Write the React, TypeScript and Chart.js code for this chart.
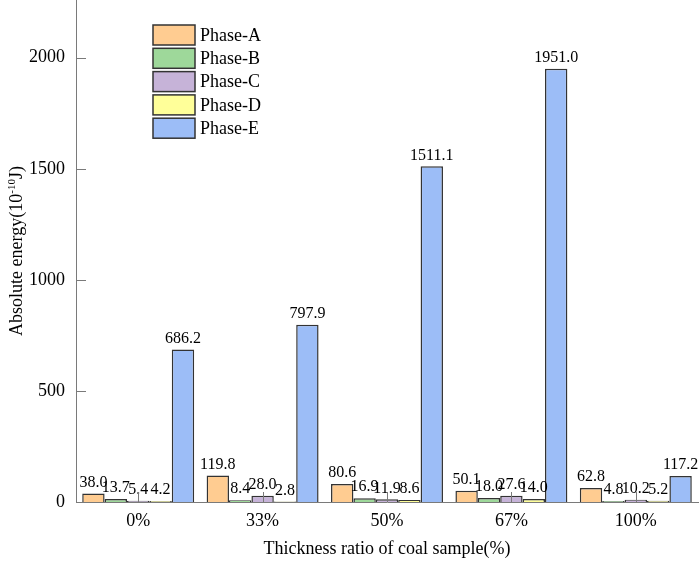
import { useEffect, useRef } from 'react';
import { Chart, registerables } from 'chart.js';

Chart.register(...registerables);

const categories = ['0%', '33%', '50%', '67%', '100%'];
const phaseA = [38.0, 119.8, 80.6, 50.1, 62.8];
const phaseB = [13.7, 8.4, 16.9, 18.0, 4.8];
const phaseC = [5.4, 28.0, 11.9, 27.6, 10.2];
const phaseD = [4.2, 2.8, 8.6, 14.0, 5.2];
const phaseE = [686.2, 797.9, 1511.1, 1951.0, 117.2];
const seriesNames = ['Phase-A', 'Phase-B', 'Phase-C', 'Phase-D', 'Phase-E'];
const seriesColors = ['#FFCC91', '#9ED89A', '#C6B3D8', '#FFFF99', '#9CBDF7'];
const yTicks = [0, 500, 1000, 1500, 2000];

const FONT = "'Liberation Serif', 'Times New Roman', serif";
const AXIS_COLOR = '#7a7a7a';

// 値ラベル・凡例・内向き目盛り・縦軸タイトルを描くプラグイン
const decorPlugin = {
  id: 'decor',
  afterDatasetsDraw(chart: any) {
    const { ctx } = chart;
    ctx.save();
    ctx.font = `16px ${FONT}`;
    ctx.fillStyle = '#000';
    ctx.textAlign = 'center';
    ctx.textBaseline = 'bottom';
    chart.data.datasets.forEach((ds: any, i: number) => {
      const meta = chart.getDatasetMeta(i);
      meta.data.forEach((el: any, j: number) => {
        ctx.fillText(Number(ds.data[j]).toFixed(1), el.x, el.y - 3);
      });
    });
    ctx.restore();
  },
  afterDraw(chart: any) {
    const { ctx, chartArea } = chart;
    const x = chart.scales.x;
    const y = chart.scales.y;
    ctx.save();
    // inward ticks
    ctx.strokeStyle = AXIS_COLOR;
    ctx.lineWidth = 1;
    ctx.beginPath();
    y.ticks.forEach((t: any) => {
      const py = Math.round(y.getPixelForValue(t.value)) + 0.5;
      ctx.moveTo(chartArea.left, py);
      ctx.lineTo(chartArea.left + 10, py);
    });
    x.ticks.forEach((_t: any, i: number) => {
      const px = Math.round(x.getPixelForTick(i)) + 0.5;
      ctx.moveTo(px, chartArea.bottom);
      ctx.lineTo(px, chartArea.bottom - 10);
    });
    ctx.stroke();

    // legend
    const lx = 153;
    const ly = 25;
    chart.data.datasets.forEach((ds: any, i: number) => {
      const top = ly + i * 23.3;
      ctx.fillStyle = ds.backgroundColor;
      ctx.fillRect(lx, top, 42, 20);
      ctx.strokeStyle = '#333';
      ctx.lineWidth = 1.5;
      ctx.strokeRect(lx, top, 42, 20);
      ctx.fillStyle = '#000';
      ctx.font = `18px ${FONT}`;
      ctx.textAlign = 'left';
      ctx.textBaseline = 'middle';
      ctx.fillText(ds.label, lx + 47, top + 11);
    });

    // y title with superscript
    const main = 'Absolute energy(10';
    const sup = '-10';
    const tail = 'J)';
    ctx.font = `18px ${FONT}`;
    const w1 = ctx.measureText(main).width;
    const w3 = ctx.measureText(tail).width;
    ctx.font = `11px ${FONT}`;
    const w2 = ctx.measureText(sup).width;
    const total = w1 + w2 + w3;
    ctx.translate(22, (chartArea.top + chartArea.bottom) / 2);
    ctx.rotate(-Math.PI / 2);
    ctx.textAlign = 'left';
    ctx.textBaseline = 'alphabetic';
    ctx.fillStyle = '#000';
    let cx = -total / 2;
    ctx.font = `18px ${FONT}`;
    ctx.fillText(main, cx, 0);
    cx += w1;
    ctx.font = `11px ${FONT}`;
    ctx.fillText(sup, cx, -7);
    cx += w2;
    ctx.font = `18px ${FONT}`;
    ctx.fillText(tail, cx, 0);
    ctx.restore();
  },
};

export default function App() {
  const canvasRef = useRef<HTMLCanvasElement>(null);

  useEffect(() => {
    document.body.style.margin = '0';
    if (!canvasRef.current) return;
    const values = [phaseA, phaseB, phaseC, phaseD, phaseE];
    const chart = new Chart(canvasRef.current, {
      type: 'bar',
      data: {
        labels: categories,
        datasets: values.map((d, i) => ({
          label: seriesNames[i],
          data: d,
          backgroundColor: seriesColors[i],
          borderColor: '#333',
          borderWidth: 1.5,
          categoryPercentage: 0.9,
          barPercentage: 1,
        })),
      },
      options: {
        animation: false,
        responsive: true,
        maintainAspectRatio: false,
        layout: { padding: { top: 0, right: 1, left: 0, bottom: 0 } },
        plugins: {
          legend: { display: false },
          tooltip: { enabled: false },
        },
        scales: {
          x: {
            grid: { display: false, drawTicks: false },
            border: { color: AXIS_COLOR, width: 1 },
            ticks: { color: '#000', font: { family: FONT, size: 18 }, padding: 8 },
            title: {
              display: true,
              text: 'Thickness ratio of coal sample(%)',
              color: '#000',
              font: { family: FONT, size: 18 },
              padding: { top: 4, bottom: 6 },
            },
            afterFit: (s: any) => {
              s.height = 64;
              s.paddingLeft = 0;
              s.paddingRight = 0;
            },
          },
          y: {
            min: 0,
            max: 2260,
            grid: { display: false, drawTicks: false },
            border: { color: AXIS_COLOR, width: 1 },
            ticks: {
              color: '#000',
              font: { family: FONT, size: 18 },
              padding: 11,
              stepSize: 500,
              callback: (v: any) => String(v),
            },
            afterBuildTicks: (s: any) => {
              s.ticks = yTicks.map((v) => ({ value: v }));
            },
            afterFit: (s: any) => {
              s.width = 76;
              s.paddingTop = 0;
              s.paddingBottom = 0;
            },
          },
        },
      },
      plugins: [decorPlugin],
    });
    return () => chart.destroy();
  }, []);

  return (
    <div style={{ position: 'relative', width: 699, height: 566 }}>
      <canvas ref={canvasRef} />
    </div>
  );
}
